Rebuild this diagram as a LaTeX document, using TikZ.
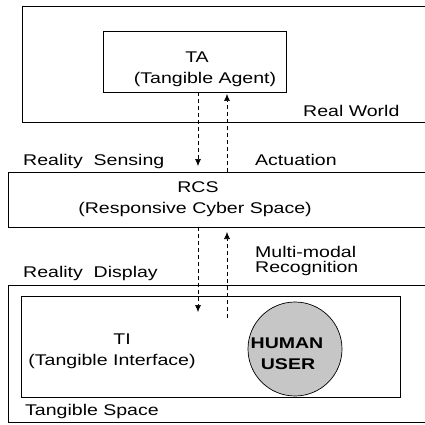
\documentclass[tikz,border=0pt]{standalone}
\usepackage{fontspec}
\setmainfont{Liberation Sans}[FakeStretch=1.26]
\usetikzlibrary{arrows.meta,positioning}
\tikzset{>={Latex[length=7pt,width=6pt]}}
\tikzset{
  frame/.style={draw=black, line width=0.7pt},
  box/.style={draw=black, line width=0.7pt, inner sep=0pt},
  lbl/.style={inner sep=0pt, font=\fontsize{15.5}{17}\selectfont},
  link/.style={draw=black, line width=0.6pt, dash pattern=on 4pt off 3pt},
}
\begin{document}
\begin{tikzpicture}[x=1pt, y=-1pt]
	\useasboundingbox (0,0) rectangle (425,425);

	% the three spaces, open to the right
	\draw[frame] (425,6) -| (22,122) -- (425,122);
	\draw[frame] (425,172) -| (8,227) -- (425,227);
	\draw[frame] (425,285) -| (8,422) -- (425,422);
	\coordinate (rcstop) at (8,172);
	\coordinate (rcsbot) at (8,227);

	% tangible agent and tangible interface
	\node[box, minimum width=183pt, minimum height=61pt] (ta) at (194.5,61.5) {};
	\node[box, minimum width=379pt, minimum height=101pt] (ti) at (210.5,346.5) {};
	\node[circle, draw=black, line width=0.7pt, fill=gray!45, minimum size=94pt] (user) at (295,349) {};

	% the text
	\node[lbl, anchor=base] (taname) at (197,63) {TA};
	\node[lbl, anchor=base] (tafull) at (205,84) {(Tangible Agent)};
	\node[lbl, anchor=base west] (world) at (303,117) {Real World};
	\node[lbl, anchor=base west] (sensing) at (23,165.5) {Reality\ \ Sensing};
	\node[lbl, anchor=base west] (actuation) at (255,165.5) {Actuation};
	\node[lbl, anchor=base] (rcsname) at (198,192) {RCS};
	\node[lbl, anchor=base] (rcsfull) at (195,213) {(Responsive Cyber Space)};
	\node[lbl, anchor=base west] (multi) at (255,257) {Multi-modal};
	\node[lbl, anchor=base west] (recog) at (255,272) {Recognition};
	\node[lbl, anchor=base west] (display) at (23,277) {Reality\ \ Display};
	\node[lbl, anchor=base] (tiname) at (122,344) {TI};
	\node[lbl, anchor=base] (tifull) at (112,365) {(Tangible Interface)};
	\node[lbl, anchor=base, font=\fontsize{15.5}{17}\selectfont\bfseries] (human) at (287,348) {HUMAN};
	\node[lbl, anchor=base, font=\fontsize{15.5}{17}\selectfont\bfseries] (usr) at (288,369) {USER};
	\node[lbl, anchor=base west] (tspace) at (25,415) {Tangible Space};

	% sensing / actuation between TA and RCS
	\coordinate (sense) at (198,166);
	\coordinate (act) at (227,94);
	\draw[link,->] (ta.south -| sense) -- (sense);
	\draw[link,->] (act |- rcstop) -- (act);

	% display / recognition between RCS and TI
	\coordinate (disp) at (198,312);
	\coordinate (rec) at (227,232);
	\coordinate (recfoot) at (227,318);
	\draw[link,->] (disp |- rcsbot) -- (disp);
	\draw[link,->] (recfoot) -- (rec);
\end{tikzpicture}
\end{document}
